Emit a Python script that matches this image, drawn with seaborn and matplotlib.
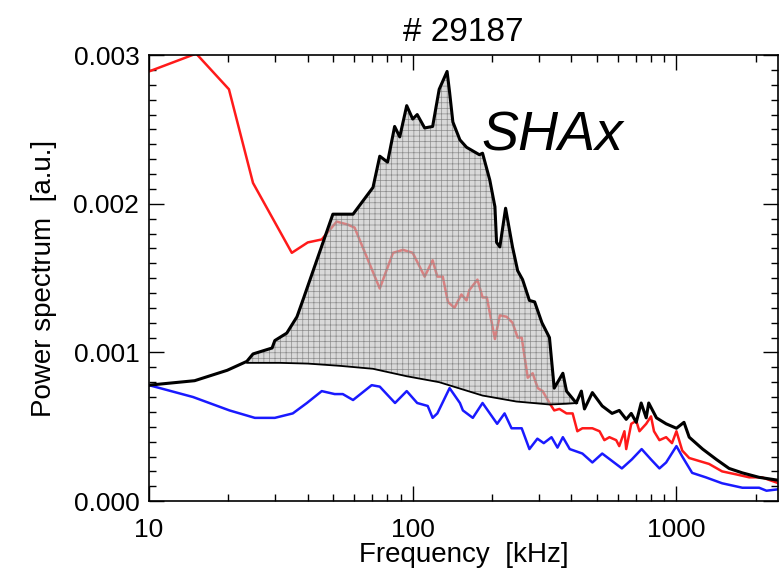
import numpy as np
import pandas as pd
import matplotlib
matplotlib.use("Agg")
import matplotlib.pyplot as plt
import seaborn as sns
from matplotlib.ticker import FixedLocator, MultipleLocator, LogLocator, NullFormatter

# ---- data (power in units of 1e-3 a.u.) ----
red_f = [10, 15.1, 20.1, 24.8, 34.8, 40.0, 45.2, 51.5, 56.7, 60.2, 75.0, 84.2, 91.9, 100, 111, 119,
         124, 130, 136, 144, 153, 160, 164, 176, 184, 191, 205, 214, 227, 239, 250, 259, 273, 285,
         298, 311, 330, 344, 360, 383, 404, 421, 440, 480, 511, 533, 557, 591, 607, 635, 645, 674,
         704, 724, 768, 801, 822, 862, 914, 962, 1000, 1052, 1118, 1219, 1330, 1490, 1683, 1888,
         2110, 2440]
red_p = [2.89, 3.01, 2.77, 2.14, 1.67, 1.74, 1.76, 1.88, 1.86, 1.84, 1.43, 1.67, 1.69, 1.67, 1.51, 1.62,
         1.51, 1.51, 1.34, 1.30, 1.39, 1.35, 1.42, 1.49, 1.37, 1.37, 1.09, 1.25, 1.24, 1.20, 1.10, 1.10,
         0.83, 0.86, 0.76, 0.74, 0.66, 0.61, 0.62, 0.59, 0.59, 0.47, 0.49, 0.49, 0.47, 0.41, 0.43, 0.41,
         0.37, 0.47, 0.35, 0.52, 0.54, 0.47, 0.52, 0.57, 0.47, 0.41, 0.43, 0.39, 0.47, 0.34, 0.29, 0.27,
         0.25, 0.20, 0.18, 0.16, 0.16, 0.12]

blue_f = [10, 14.7, 20.2, 25.2, 30.0, 35.1, 39.7, 45.2, 50.6, 54.3, 59.4, 69.9, 75.0, 85.7, 94.9, 104,
          114, 119, 124, 138, 151, 155, 169, 184, 209, 223, 237, 259, 277, 297, 314, 336, 354, 371,
          394, 440, 480, 523, 570, 621, 677, 738, 801, 862, 914, 1000, 1052, 1147, 1292, 1490, 1778,
          2058, 2195, 2440]
blue_p = [0.78, 0.70, 0.61, 0.56, 0.56, 0.59, 0.66, 0.74, 0.72, 0.72, 0.68, 0.78, 0.77, 0.66, 0.74, 0.66,
          0.64, 0.56, 0.59, 0.76, 0.66, 0.61, 0.56, 0.66, 0.52, 0.59, 0.49, 0.49, 0.35, 0.42, 0.39, 0.43,
          0.36, 0.43, 0.35, 0.32, 0.26, 0.32, 0.27, 0.22, 0.28, 0.35, 0.28, 0.22, 0.26, 0.37, 0.30, 0.19,
          0.16, 0.12, 0.09, 0.09, 0.07, 0.08]

black_f = [10, 14.9, 19.8, 23.5, 24.8, 29.3, 30.0, 33.3, 36.4, 38.3, 49.8, 59.4, 70.7, 75.0, 80.3, 85.4,
           89.3, 94.9, 100, 104, 111, 119, 126, 135, 138, 142, 151, 160, 179, 184, 196, 205, 208,
           214, 225, 239, 250, 261, 277, 290, 309, 330, 344, 371, 383, 417, 436, 448, 480, 523, 570,
           607, 645, 674, 704, 735, 768, 785, 840, 914, 1000, 1068, 1118, 1257, 1418, 1583, 1778,
           2058, 2440]
black_p = [0.78, 0.81, 0.88, 0.94, 0.99, 1.03, 1.08, 1.13, 1.24, 1.35, 1.93, 1.93, 2.11, 2.32, 2.28, 2.52,
           2.45, 2.66, 2.57, 2.60, 2.51, 2.52, 2.77, 2.89, 2.75, 2.55, 2.43, 2.38, 2.33, 2.34, 2.16, 1.98,
           1.74, 1.71, 1.97, 1.71, 1.55, 1.49, 1.35, 1.34, 1.20, 1.10, 0.76, 0.86, 0.74, 0.66, 0.74, 0.62,
           0.73, 0.64, 0.59, 0.61, 0.55, 0.59, 0.53, 0.66, 0.56, 0.66, 0.56, 0.52, 0.49, 0.53, 0.43, 0.35,
           0.28, 0.22, 0.19, 0.16, 0.14]

# smooth background under the SHAx peak
base_f = [23.5, 31.3, 40.0, 52.9, 70.7, 94.9, 126, 184, 247, 330, 383, 421]
base_p = [0.93, 0.93, 0.925, 0.91, 0.89, 0.84, 0.80, 0.71, 0.67, 0.65, 0.655, 0.66]

x_ticks = [10, 100, 1000]
x_tick_labels = ["10", "100", "1000"]
y_ticks = [0.0, 0.001, 0.002, 0.003]
y_tick_labels = ["0.000", "0.001", "0.002", "0.003"]

title = "# 29187"
annot = "SHAx"

# ---- plot ----
sns.set_theme(style="ticks")
plt.rcParams["font.family"] = ["Liberation Sans", "DejaVu Sans"]
for k in ["text.color", "axes.labelcolor", "xtick.color", "ytick.color", "axes.edgecolor"]:
    plt.rcParams[k] = "black"

fig = plt.figure(figsize=(7.8, 5.8), dpi=100)
ax = fig.add_axes([0.191, 0.136, 0.806, 0.769])

scale = 1e-3
red = pd.DataFrame({"f": red_f, "p": np.array(red_p) * scale})
blue = pd.DataFrame({"f": blue_f, "p": np.array(blue_p) * scale})
black = pd.DataFrame({"f": black_f, "p": np.array(black_p) * scale})
base = pd.DataFrame({"f": base_f, "p": np.array(base_p) * scale})

sns.lineplot(data=red, x="f", y="p", ax=ax, color="#ff1a1a", lw=1.8, sort=False, estimator=None, zorder=1)
sns.lineplot(data=blue, x="f", y="p", ax=ax, color="#1a1aff", lw=1.8, sort=False, estimator=None, zorder=1)

# shaded SHAx region: top = black spectrum, bottom = smooth background
fmin, fmax = base_f[0], base_f[-1]
top = black[(black.f >= fmin) & (black.f <= fmax)]
poly_x = np.concatenate([[fmin], top.f.values, [fmax], base.f.values[::-1]])
poly_y = np.concatenate([[base.p.values[0]], top.p.values, [base.p.values[-1]], base.p.values[::-1]])
plt.rcParams["hatch.linewidth"] = 0.5
ax.fill(poly_x, poly_y, facecolor=(0.76, 0.76, 0.76, 0.62), edgecolor="#8c8c8c", hatch="+++",
        linewidth=0, zorder=2)

sns.lineplot(data=base, x="f", y="p", ax=ax, color="black", lw=1.3, sort=False, estimator=None, zorder=3)
sns.lineplot(data=black, x="f", y="p", ax=ax, color="black", lw=2.2, sort=False, estimator=None, zorder=4)

ax.set_xscale("log")
ax.set_xlim(10, 2420)
ax.set_ylim(0, 0.003)

ax.xaxis.set_major_locator(FixedLocator(x_ticks))
ax.set_xticklabels(x_tick_labels)
ax.xaxis.set_minor_locator(LogLocator(base=10, subs=np.arange(2, 10)))
ax.xaxis.set_minor_formatter(NullFormatter())
ax.set_yticks(y_ticks)
ax.set_yticklabels(y_tick_labels)
ax.yaxis.set_minor_locator(MultipleLocator(0.0001))

ax.tick_params(which="both", direction="in", top=True, right=True, labelsize=19, width=1.0)
ax.tick_params(which="major", length=11)
ax.tick_params(which="minor", length=5)
ax.tick_params(axis="x", which="major", pad=12)
ax.tick_params(axis="y", which="major", pad=7)
for s in ax.spines.values():
    s.set_linewidth(1.2)

ax.set_xlabel("Frequency  [kHz]", fontsize=20, labelpad=0)
ax.set_ylabel("Power spectrum  [a.u.]", fontsize=20, labelpad=12)
ax.set_title(title, fontsize=24, pad=10)

ax.text(0.529, 0.785, annot, transform=ax.transAxes, fontsize=40, fontstyle="italic",
        va="baseline", ha="left")

fig.savefig("out.png", dpi=100)
